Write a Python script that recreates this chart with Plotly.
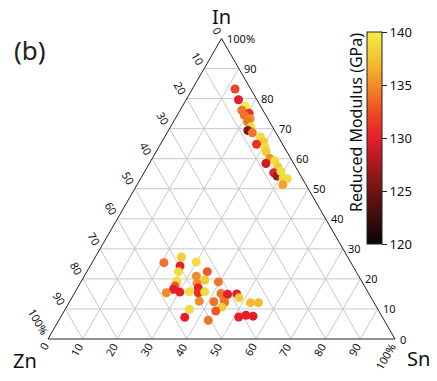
import math
import plotly.graph_objects as go

# ---------------- data ----------------
in_pct = [83.2, 79.6, 77.4, 76.1, 75.1, 74.4, 73.3, 72.3, 70.6, 69.4, 68.6, 67.3, 65.6,
          64.8, 63.8, 62.3, 60.1, 58.4, 59.3, 57.3, 55.3, 54.2, 55.8, 53.5, 53.3, 51.3,
          25.4, 27.3, 25.6, 24.3, 22.4, 22.4, 20.9, 19.3, 19.6, 19.0, 18.5, 17.6, 16.5,
          15.4, 15.6, 15.7, 17.0, 15.4, 15.7, 12.6, 15.1, 13.3, 14.9, 15.0, 13.7, 12.4,
          12.2, 10.6, 9.3, 9.9, 12.1, 12.1, 7.2, 6.2, 7.3, 7.9, 7.6]
sn_pct = [12.3, 15.1, 18.2, 17.8, 20.4, 19.4, 21.6, 21.4, 23.2, 22.9, 24.6, 27.5, 29.3,
          27.7, 30.6, 31.7, 33.9, 33.6, 35.7, 37.6, 37.4, 38.9, 39.2, 41.0, 42.3, 42.0,
          20.7, 24.8, 29.9, 25.9, 26.4, 34.7, 32.3, 27.5, 35.4, 39.6, 33.7, 27.8, 27.9,
          26.4, 30.2, 32.8, 34.8, 35.6, 37.3, 37.3, 42.3, 44.1, 44.3, 46.9, 48.2, 41.6,
          44.8, 44.8, 43.7, 35.8, 52.3, 54.6, 35.8, 43.1, 51.3, 53.1, 55.3]
zn_pct = [4.5, 5.3, 4.4, 6.1, 4.5, 6.2, 5.1, 6.3, 6.2, 7.7, 6.8, 5.2, 5.1,
          7.5, 5.6, 6.0, 6.0, 8.0, 5.0, 5.1, 7.3, 6.9, 5.0, 5.5, 4.4, 6.7,
          53.9, 47.9, 44.5, 49.8, 51.2, 42.9, 46.8, 53.2, 45.0, 41.4, 47.8, 54.6, 55.6,
          58.2, 54.2, 51.5, 48.2, 49.0, 47.0, 50.1, 42.6, 42.6, 40.8, 38.1, 38.1, 46.0,
          43.0, 44.6, 47.0, 54.3, 35.6, 33.3, 57.0, 50.7, 41.4, 39.0, 37.1]
modulus = [132, 130, 140, 134, 131, 134, 135, 134, 139, 126, 134, 139, 138,
           131, 139, 138, 135, 129, 139, 138, 130, 127, 139, 139, 139, 136,
           134, 138, 139, 130, 139, 133, 135, 139, 138, 134, 135, 133, 130,
           135, 130, 139, 130, 131, 139, 135, 134, 134, 130, 130, 138, 134,
           134, 138, 133, 139, 137, 137, 130, 134, 130, 130, 130]

tick_vals = [0, 10, 20, 30, 40, 50, 60, 70, 80, 90, 100]
tick_text = ["0", "10", "20", "30", "40", "50", "60", "70", "80", "90", "100%"]
cbar_ticks = [120, 125, 130, 135, 140]

S3 = math.sqrt(3) / 2


def cart(a_in, b_sn):
    """ternary (In, Sn) in percent -> cartesian; Zn corner at origin, Sn at (100,0)."""
    return b_sn + a_in / 2.0, a_in * S3


# normalised point positions
px, py = [], []
for a, b, c in zip(in_pct, sn_pct, zn_pct):
    t = a + b + c
    x, y = cart(100 * a / t, 100 * b / t)
    px.append(x)
    py.append(y)

# grid lines
gx, gy = [], []
for k in tick_vals[1:-1]:
    for p, q in [((k, 0), (k, 100 - k)),          # const In
                 ((0, k), (100 - k, k)),          # const Sn
                 ((100 - k, 0), (0, 100 - k))]:   # const Zn
        x0, y0 = cart(*p)
        x1, y1 = cart(*q)
        gx += [x0, x1, None]
        gy += [y0, y1, None]

ex, ey = [], []
for p in [(0, 0), (0, 100), (100, 0), (0, 0)]:
    x, y = cart(*p)
    ex.append(x)
    ey.append(y)

colorscale = [[0.0, "#0a0505"], [0.25, "#6e1414"], [0.5, "#e61e28"],
              [0.62, "#ec4a24"], [0.75, "#f28c28"], [0.88, "#f4c634"], [1.0, "#f2ec46"]]

FONT = "Noto Sans"

fig = go.Figure()
fig.add_trace(go.Scatter(x=gx, y=gy, mode="lines", line=dict(color="#c8c8c8", width=1),
                         hoverinfo="skip", showlegend=False))
fig.add_trace(go.Scatter(x=ex, y=ey, mode="lines", line=dict(color="#222222", width=1),
                         hoverinfo="skip", showlegend=False))
fig.add_trace(go.Scatter(
    x=px, y=py, mode="markers", showlegend=False,
    customdata=list(zip(in_pct, sn_pct, zn_pct)),
    hovertemplate="In %{customdata[0]}%<br>Sn %{customdata[1]}%<br>Zn %{customdata[2]}%<br>%{marker.color} GPa<extra></extra>",
    marker=dict(size=9, color=modulus, colorscale=colorscale, cmin=120, cmax=140,
                line=dict(width=0),
                colorbar=dict(x=367 / 437, xanchor="left", y=1 - 32 / 381, yanchor="top",
                              len=212, lenmode="pixels", thickness=15, xpad=0, ypad=0,
                              outlinewidth=1, outlinecolor="#222222",
                              tickvals=cbar_ticks, ticks="outside", ticklen=5,
                              tickcolor="#222222",
                              tickfont=dict(family=FONT, size=13, color="#111111")))))

ann = []


def char_w(s):
    return sum(9 if ch == "%" else 6.5 for ch in s)


for v, t in zip(tick_vals, tick_text):
    # In (right edge, horizontal)
    x, y = cart(v, 100 - v)
    ann.append(dict(x=x, y=y, text=t, showarrow=False, xanchor="left", yanchor="middle",
                    xshift=3, font=dict(family=FONT, size=11, color="#111111")))
    d = 5.5 + char_w(t) / 2
    # Zn (left edge), along extension of const-Zn lines (up-left)
    x, y = cart(100 - v, 0)
    ann.append(dict(x=x, y=y, text=t, showarrow=False, xanchor="center", yanchor="middle",
                    xshift=-0.5 * d, yshift=S3 * d, textangle=60,
                    font=dict(family=FONT, size=11, color="#111111")))
    # Sn (bottom edge), along extension of const-Sn lines (down-left)
    x, y = cart(0, v)
    ann.append(dict(x=x, y=y, text=t, showarrow=False, xanchor="center", yanchor="middle",
                    xshift=-0.5 * d, yshift=-S3 * d, textangle=-60,
                    font=dict(family=FONT, size=11, color="#111111")))

# corner titles
for (a, b), t, xs, ys in [((100, 0), "In", 0, 22), ((0, 0), "Zn", -23, -21), ((0, 100), "Sn", 23, -19)]:
    x, y = cart(a, b)
    ann.append(dict(x=x, y=y, text=t, showarrow=False, xanchor="center", yanchor="middle",
                    xshift=xs, yshift=ys, font=dict(family=FONT, size=20, color="#111111")))

ann.append(dict(x=30 / 437, y=1 - 50 / 381, xref="paper", yref="paper", text="(b)",
                showarrow=False, xanchor="center", yanchor="middle",
                font=dict(family=FONT, size=26, color="#222222")))
ann.append(dict(x=356 / 437, y=1 - 123 / 381, xref="paper", yref="paper",
                text="Reduced Modulus (GPa)", textangle=-90, showarrow=False,
                xanchor="center", yanchor="middle",
                font=dict(family=FONT, size=16, color="#111111")))

fig.update_layout(
    width=437, height=381, margin=dict(l=0, r=0, t=0, b=0),
    paper_bgcolor="white", plot_bgcolor="white",
    xaxis=dict(range=[-48 / 3.47, (437 - 48) / 3.47], visible=False, fixedrange=True),
    yaxis=dict(range=[-42 / 3.47, 339 / 3.47], visible=False, fixedrange=True),
    annotations=ann,
)

fig.write_html("out.html", config={"displayModeBar": False},
               post_script="document.body.style.margin='0';document.body.style.overflow='hidden';")
